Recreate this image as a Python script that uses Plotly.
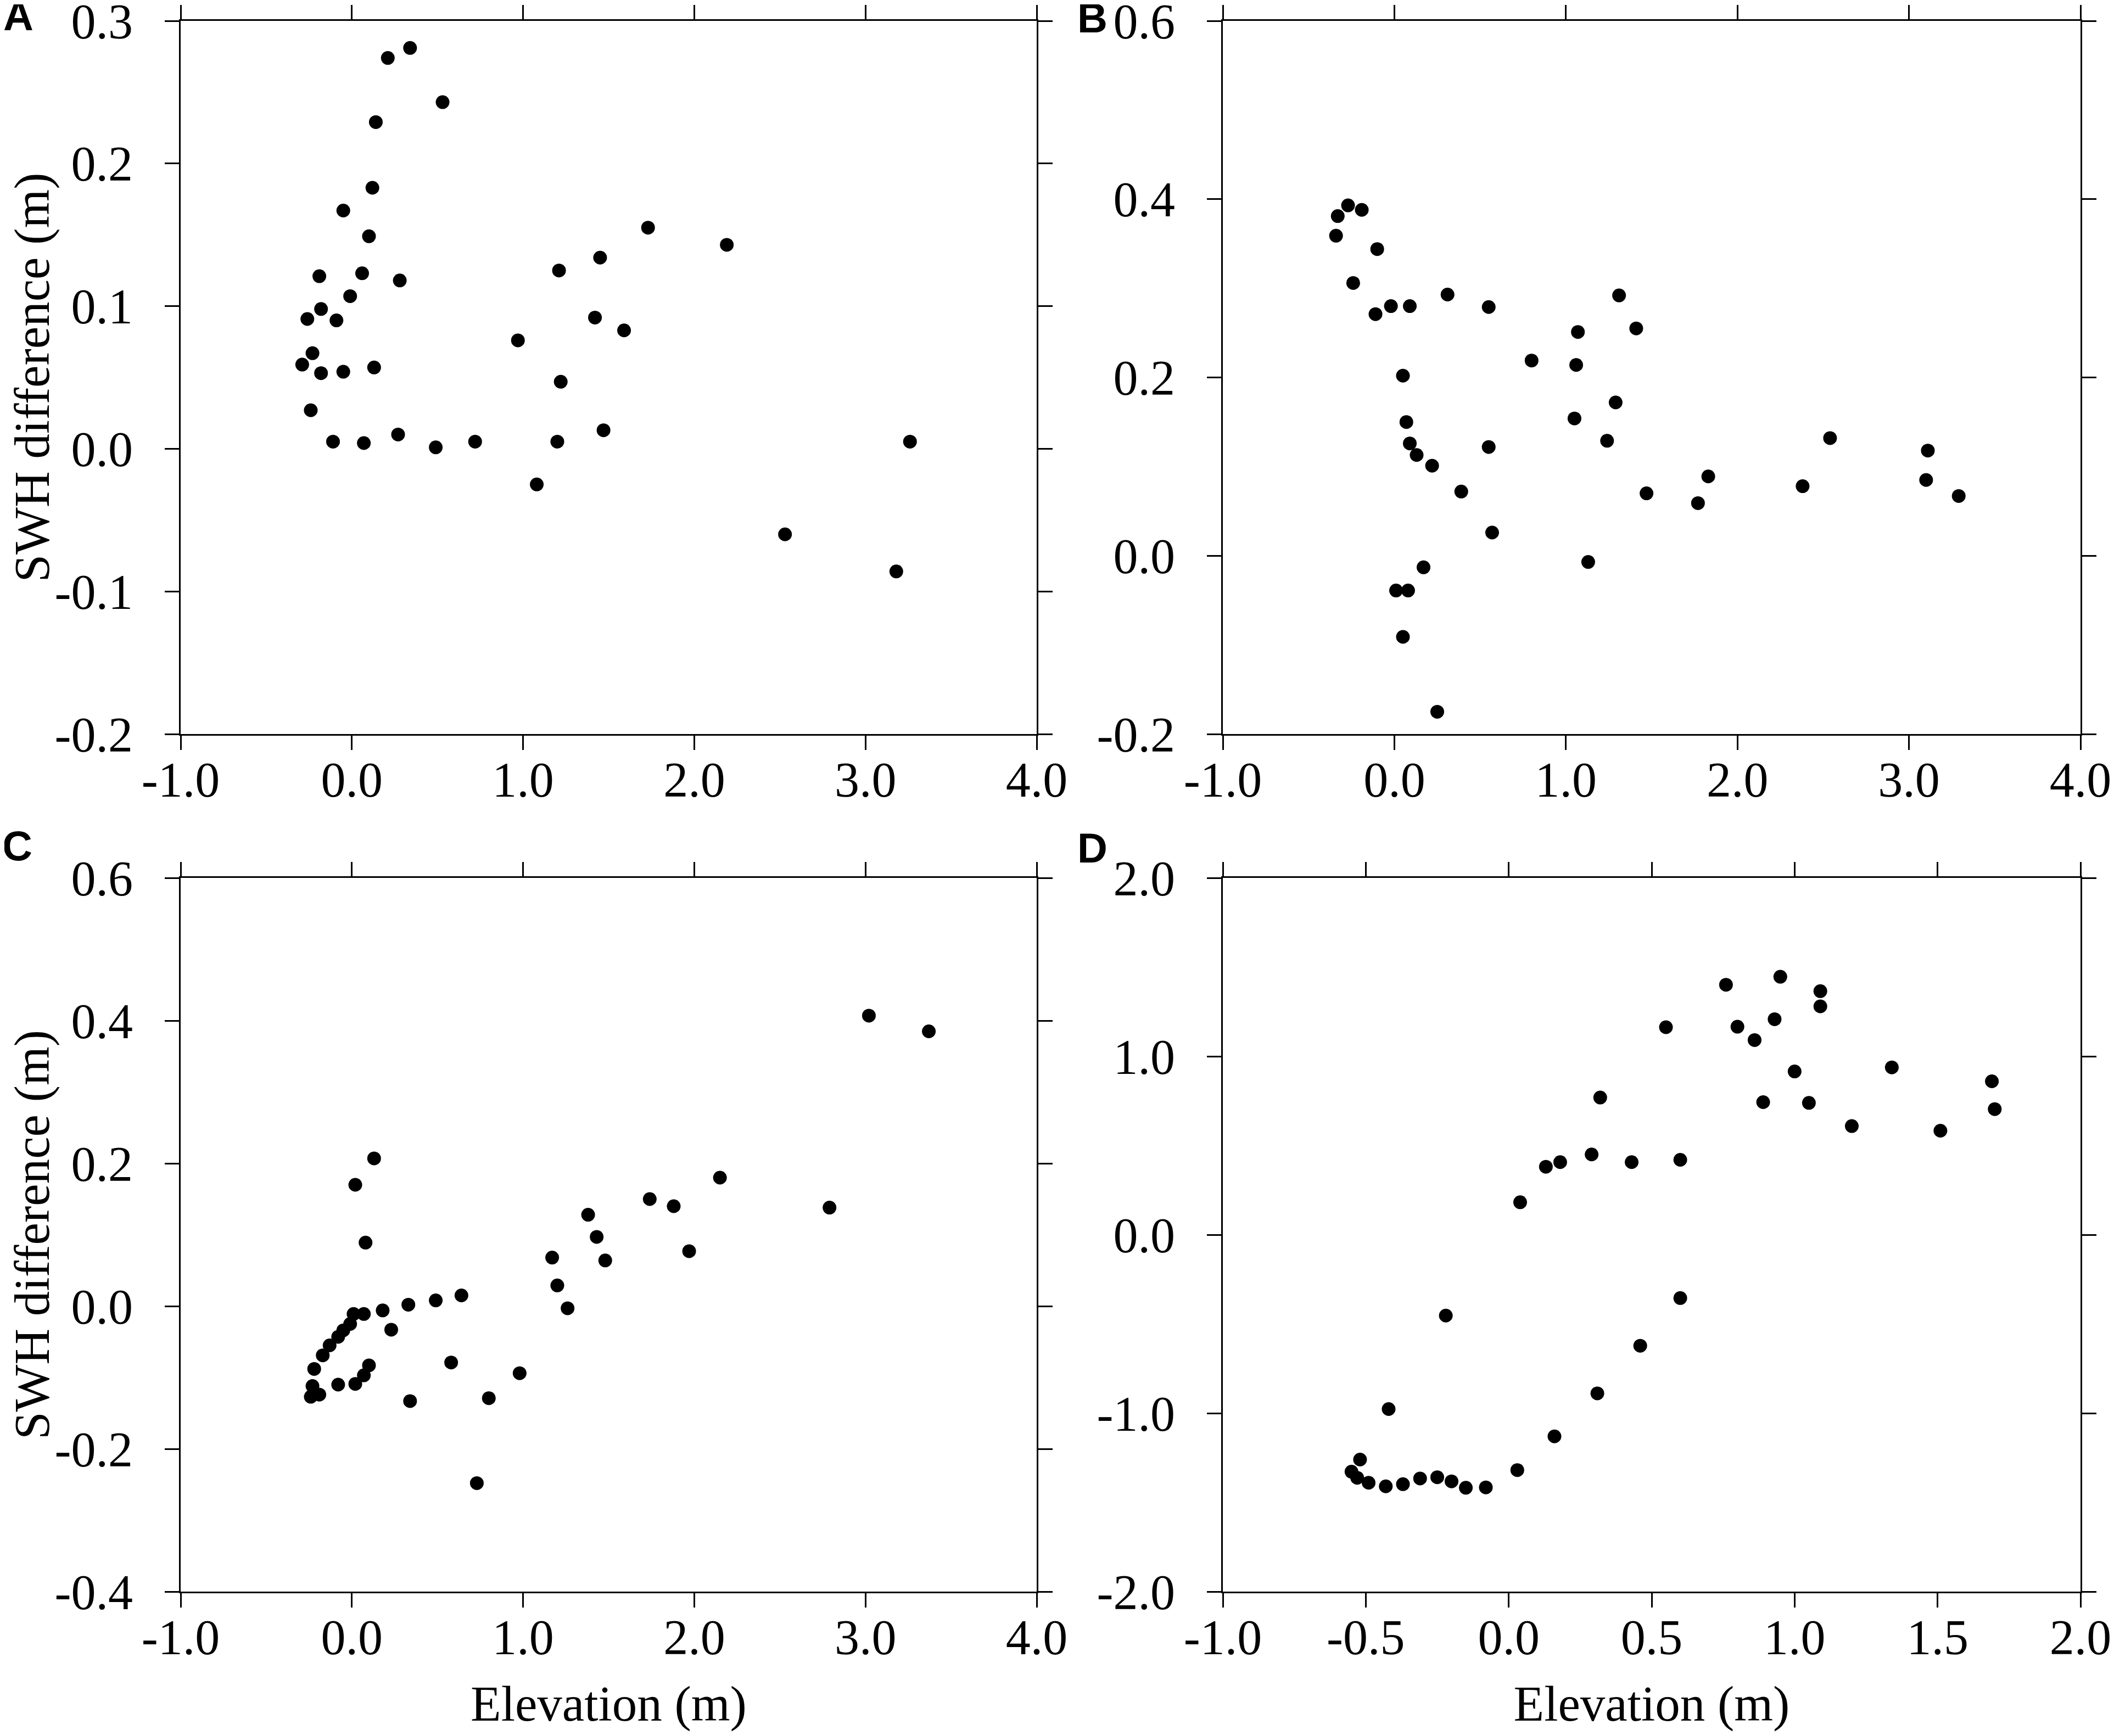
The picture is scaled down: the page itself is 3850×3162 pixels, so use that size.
import plotly.graph_objects as go

# panel A
a_x = [0.34, 0.21, 0.53, 0.14, 0.12, -0.05, 0.10, -0.19, 0.06, 0.28, -0.01, -0.18, -0.26,
       -0.09, -0.23, -0.29, -0.18, -0.05, 0.13, -0.24, -0.11, 0.07, 0.27, 0.49, 0.72, 0.97,
       1.08, 1.21, 1.22, 1.20, 1.42, 1.45, 1.47, 1.59, 1.73, 2.19, 2.53, 3.18, 3.26]
a_y = [0.281, 0.274, 0.243, 0.229, 0.183, 0.167, 0.149, 0.121, 0.123, 0.118, 0.107, 0.098,
       0.091, 0.090, 0.067, 0.059, 0.053, 0.054, 0.057, 0.027, 0.005, 0.004, 0.010, 0.001,
       0.005, 0.076, -0.025, 0.125, 0.047, 0.005, 0.092, 0.134, 0.013, 0.083, 0.155, 0.143,
       -0.060, -0.086, 0.005]

# panel B
b_x = [-0.33, -0.27, -0.19, -0.34, -0.10, -0.24, -0.11, -0.02, 0.09, 0.31, 0.55, 0.05, 0.07,
       0.09, 0.13, 0.22, 0.39, 0.55, 0.57, 0.17, 0.01, 0.08, 0.05, 0.25, 0.80, 1.07, 1.06,
       1.05, 1.13, 1.31, 1.41, 1.29, 1.24, 1.47, 1.77, 1.83, 2.38, 2.54, 3.11, 3.10, 3.29]
b_y = [0.381, 0.393, 0.388, 0.359, 0.344, 0.306, 0.271, 0.280, 0.280, 0.293, 0.279, 0.202,
       0.150, 0.126, 0.113, 0.101, 0.072, 0.122, 0.026, -0.013, -0.039, -0.039, -0.091,
       -0.175, 0.219, 0.251, 0.214, 0.154, -0.007, 0.292, 0.255, 0.172, 0.129, 0.070, 0.059,
       0.089, 0.078, 0.132, 0.118, 0.085, 0.067]

# panel C
c_x = [3.02, 3.37, 0.13, 0.02, 0.08, 2.15, 1.74, 1.88, 2.79, 1.38, 1.43, 1.97, 1.17, 1.48,
       1.20, 1.26, 0.64, 0.49, 0.33, 0.18, 0.23, 0.07, 0.01, -0.01, -0.05, -0.08, -0.13,
       -0.17, -0.22, 0.10, 0.07, 0.02, -0.08, -0.23, -0.19, -0.24, 0.58, 0.98, 0.80, 0.34, 0.73]
c_y = [0.407, 0.385, 0.207, 0.170, 0.089, 0.180, 0.150, 0.140, 0.138, 0.128, 0.097, 0.077,
       0.068, 0.064, 0.029, -0.003, 0.015, 0.008, 0.002, -0.006, -0.033, -0.011, -0.011,
       -0.025, -0.034, -0.043, -0.055, -0.069, -0.088, -0.083, -0.097, -0.109, -0.110,
       -0.112, -0.124, -0.127, -0.079, -0.094, -0.129, -0.133, -0.248]

# panel D
d_x = [0.76, 0.95, 1.09, 1.09, 0.93, 0.80, 0.55, 0.86, 1.00, 1.34, 1.69, 1.70, 0.89, 1.05,
       0.32, 1.20, 1.51, 0.29, 0.13, 0.18, 0.43, 0.60, 0.04, 0.60, 0.46, 0.31, 0.16, 0.03,
       -0.22, -0.42, -0.52, -0.55, -0.53, -0.49, -0.43, -0.37, -0.31, -0.25, -0.20, -0.15, -0.08]
d_y = [1.401, 1.446, 1.365, 1.280, 1.208, 1.166, 1.163, 1.091, 0.915, 0.938, 0.860, 0.704,
       0.743, 0.739, 0.769, 0.609, 0.583, 0.450, 0.381, 0.407, 0.407, 0.420, 0.182, -0.355,
       -0.622, -0.889, -1.130, -1.319, -0.453, -0.977, -1.260, -1.328, -1.362, -1.390,
       -1.410, -1.398, -1.366, -1.359, -1.382, -1.418, -1.416]

# ticks
x_ticks = [-1.0, 0.0, 1.0, 2.0, 3.0, 4.0]
x_labels = ["-1.0", "0.0", "1.0", "2.0", "3.0", "4.0"]
xd_ticks = [-1.0, -0.5, 0.0, 0.5, 1.0, 1.5, 2.0]
xd_labels = ["-1.0", "-0.5", "0.0", "0.5", "1.0", "1.5", "2.0"]
ya_ticks = [-0.2, -0.1, 0.0, 0.1, 0.2, 0.3]
ya_labels = ["-0.2", "-0.1", "0.0", "0.1", "0.2", "0.3"]
yb_ticks = [-0.2, 0.0, 0.2, 0.4, 0.6]
yb_labels = ["-0.2", "0.0", "0.2", "0.4", "0.6"]
yc_ticks = [-0.4, -0.2, 0.0, 0.2, 0.4, 0.6]
yc_labels = ["-0.4", "-0.2", "0.0", "0.2", "0.4", "0.6"]
yd_ticks = [-2.0, -1.0, 0.0, 1.0, 2.0]
yd_labels = ["-2.0", "-1.0", "0.0", "1.0", "2.0"]

# page body has an 8px margin, so the figure is 16px smaller than the window
OFF = 8
W, H = 3850 - 2 * OFF, 3162 - 2 * OFF
serif = "Liberation Serif, Times New Roman, serif"


def fx(p):
    return (p - OFF) / W


def fy(p):
    return 1 - (p - OFF) / H


fig = go.Figure()

panels = [(a_x, a_y, "x", "y"), (b_x, b_y, "x2", "y2"),
          (c_x, c_y, "x3", "y3"), (d_x, d_y, "x4", "y4")]
for px, py, xa, ya in panels:
    fig.add_trace(go.Scatter(
        x=px, y=py, xaxis=xa, yaxis=ya, mode="markers",
        marker=dict(size=25, color="black"),
        showlegend=False, hoverinfo="skip",
    ))


def ax(domain, rng, vals, text, anchor, title=None, xdir=True):
    d = dict(
        domain=domain, range=rng, tickvals=vals, ticktext=text, anchor=anchor,
        automargin=False, ticklabeloverflow="allow",
        showgrid=False, zeroline=False, showline=True, linecolor="black", linewidth=3,
        mirror="ticks", ticks="outside", ticklen=26, tickwidth=3, tickcolor="black",
        tickfont=dict(family=serif, size=90, color="black"),
        ticklabelstandoff=-23 if xdir else 40,
    )
    if title:
        d["title"] = dict(text=title, font=dict(family=serif, size=91, color="black"),
                          standoff=42 if xdir else 30)
    return d


left = [fx(329), fx(1888)]
right = [fx(2227), fx(3789)]
top = [fy(1337), fy(38)]
bottom = [fy(2899), fy(1599)]

fig.update_layout(
    width=W, height=H,
    margin=dict(l=0, r=0, t=0, b=0, autoexpand=False),
    paper_bgcolor="white", plot_bgcolor="white",
    xaxis=ax(left, [-1, 4], x_ticks, x_labels, "y"),
    yaxis=ax(top, [-0.2, 0.3], ya_ticks, ya_labels, "x", "SWH difference (m)", False),
    xaxis2=ax(right, [-1, 4], x_ticks, x_labels, "y2"),
    yaxis2=ax(top, [-0.2, 0.6], yb_ticks, yb_labels, "x2", None, False),
    xaxis3=ax(left, [-1, 4], x_ticks, x_labels, "y3", "Elevation (m)"),
    yaxis3=ax(bottom, [-0.4, 0.6], yc_ticks, yc_labels, "x3", "SWH difference (m)", False),
    xaxis4=ax(right, [-1, 2], xd_ticks, xd_labels, "y4", "Elevation (m)"),
    yaxis4=ax(bottom, [-2, 2], yd_ticks, yd_labels, "x4", None, False),
)

# panel letters
letters = [("A", 33, 29), ("B", 1990, 33), ("C", 31, 1540), ("D", 1990, 1544)]
for txt, lx, ly in letters:
    fig.add_annotation(
        text="<b>" + txt + "</b>", x=fx(lx), y=fy(ly), xref="paper", yref="paper",
        xanchor="center", yanchor="middle", showarrow=False,
        font=dict(family="Liberation Sans, Arial, sans-serif", size=76, color="black"),
    )

fig.write_html("out.html")
